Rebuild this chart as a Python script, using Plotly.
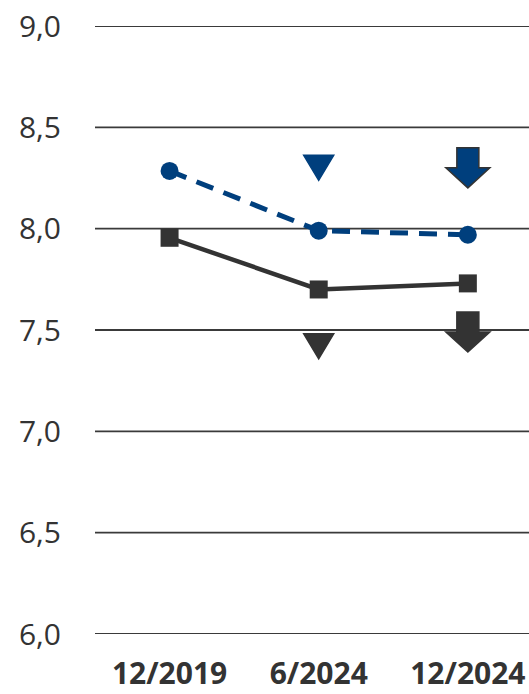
import plotly.graph_objects as go

# Survey periods and the two series
periods = ["12/2019", "6/2024", "12/2024"]
series_blue = [8.285, 7.99, 7.97]
series_dark = [7.955, 7.70, 7.73]

# Change indicators: period, level where the symbol sits, kind, colour
indicator_periods = ["6/2024", "12/2024", "6/2024", "12/2024"]
indicator_levels = [8.30, 8.30, 7.42, 7.49]
indicator_kinds = ["triangle", "arrow", "triangle", "arrow"]
indicator_colors = ["#003F7D", "#003F7D", "#333333", "#333333"]

y_ticks = [6.0, 6.5, 7.0, 7.5, 8.0, 8.5, 9.0]

BLUE = "#003F7D"
DARK = "#333333"

fig = go.Figure()

fig.add_trace(go.Scatter(
    x=periods, y=series_dark, mode="lines+markers",
    line=dict(color=DARK, width=4.5),
    marker=dict(symbol="square", size=18, color=DARK),
    cliponaxis=False, showlegend=False,
))
fig.add_trace(go.Scatter(
    x=periods, y=series_blue, mode="lines+markers",
    line=dict(color=BLUE, width=5, dash="18px,11px"),
    marker=dict(symbol="circle", size=18, color=BLUE),
    cliponaxis=False, showlegend=False,
))

# Horizontal grid lines drawn as shapes so the edge lines (6,0 and 9,0) show too
shapes = [
    dict(type="line", xref="paper", yref="y", x0=0, x1=1, y0=t, y1=t,
         line=dict(color="#3a3a3a", width=1.8), layer="below")
    for t in y_ticks
]

# Pixel-sized symbol outlines (offsets in px, positive y is up)
TRIANGLE = "M -15,12.5 L 15,12.5 L 0,-12.5 Z"
ARROW = "M -11,20 L 11,20 L 11,0 L 22,0 L 0,-20 L -22,0 L -11,0 Z"

for per, lvl, kind, col in zip(indicator_periods, indicator_levels,
                               indicator_kinds, indicator_colors):
    outline = DARK if kind == "arrow" else col
    shapes.append(dict(
        type="path", xref="x", yref="y",
        xsizemode="pixel", ysizemode="pixel",
        xanchor=periods.index(per), yanchor=lvl,
        path=TRIANGLE if kind == "triangle" else ARROW,
        fillcolor=col, line=dict(color=outline, width=1.5),
        layer="above",
    ))

fig.update_layout(
    width=529, height=694,
    margin=dict(l=95, r=0, t=26, b=60),
    paper_bgcolor="white", plot_bgcolor="white",
    separators=", ",
    font=dict(family="Open Sans", color=DARK),
    shapes=shapes,
    xaxis=dict(
        type="category", range=[-0.5, 2.41], automargin=False,
        showgrid=False, zeroline=False, showline=False, ticks="",
        tickfont=dict(size=30, color=DARK, weight="bold"),
        ticklabelstandoff=19,
    ),
    yaxis=dict(
        range=[6.0, 9.0], tickvals=y_ticks, tickformat=".1f", automargin=False,
        showgrid=False, zeroline=False, showline=False, ticks="",
        tickfont=dict(size=30, color=DARK),
        ticklabelstandoff=33,
    ),
)

fig.write_html("out.html")
